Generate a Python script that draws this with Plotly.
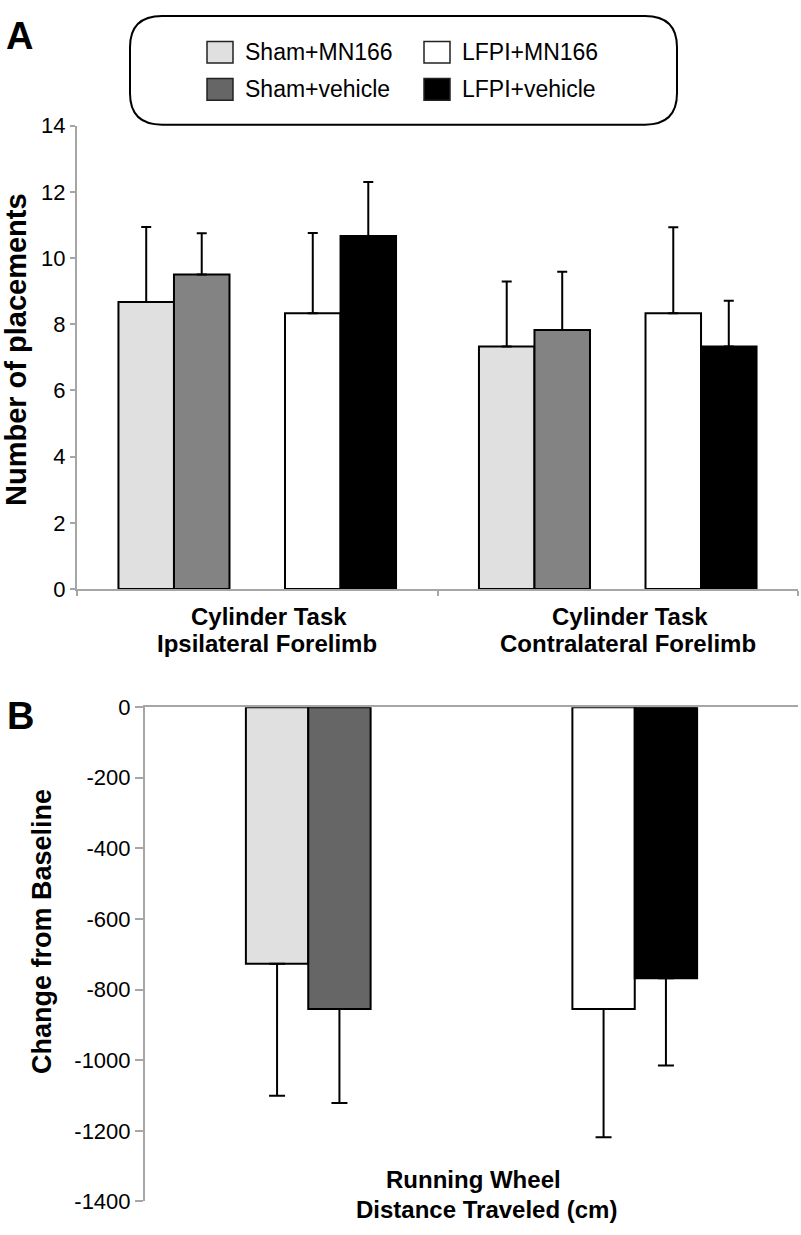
import plotly.graph_objects as go

W, H = 801, 1235
FONT = "Liberation Sans, Arial, sans-serif"

# ---------------- data ----------------
series = ["Sham+MN166", "Sham+vehicle", "LFPI+MN166", "LFPI+vehicle"]

# Panel A: cylinder task
a_categories = ["Cylinder Task<br>Ipsilateral Forelimb", "Cylinder Task<br>Contralateral Forelimb"]
a_sham_mn166 = [8.67, 7.33]
a_sham_vehicle = [9.5, 7.83]
a_lfpi_mn166 = [8.33, 8.33]
a_lfpi_vehicle = [10.67, 7.33]
a_err_sham_mn166 = [2.27, 1.96]
a_err_sham_vehicle = [1.25, 1.76]
a_err_lfpi_mn166 = [2.43, 2.6]
a_err_lfpi_vehicle = [1.63, 1.38]
a_ticks = [0, 2, 4, 6, 8, 10, 12, 14]

# Panel B: running wheel
b_groups = ["Sham", "LFPI"]
b_values = [-727, -855, -855, -768]   # order of `series`
b_errors = [374, 266, 363, 247]
b_ticks = [0, -200, -400, -600, -800, -1000, -1200, -1400]
b_ticktext = ["0", "-200", "-400", "-600", "-800", "-1000", "-1200", "-1400"]

# ---------------- styles ----------------
a_colors = ["#e0e0e0", "#838383", "#ffffff", "#000000"]
b_colors = ["#e0e0e0", "#666666", "#ffffff", "#000000"]
legend_colors = ["#e0e0e0", "#666666", "#ffffff", "#000000"]
AXIS_GRAY = "#a6a6a6"


def px_x(p):
    return p / W


def px_y(p):
    return 1 - p / H


fig = go.Figure()

# Panel A bars: 5 slots per category, middle slot empty
wA = 0.154
a_offsets = [-2 * wA, -1 * wA, 1 * wA, 2 * wA]
a_vals = [a_sham_mn166, a_sham_vehicle, a_lfpi_mn166, a_lfpi_vehicle]
a_errs = [a_err_sham_mn166, a_err_sham_vehicle, a_err_lfpi_mn166, a_err_lfpi_vehicle]
for i, name in enumerate(series):
    fig.add_trace(go.Bar(
        x=[k + a_offsets[i] for k in range(len(a_categories))],
        y=a_vals[i], width=wA, name=name, showlegend=False,
        marker=dict(color=a_colors[i], line=dict(color="black", width=2)),
        error_y=dict(type="data", symmetric=False, array=a_errs[i],
                     arrayminus=[0] * len(a_errs[i]), color="black",
                     thickness=2, width=5),
        xaxis="x", yaxis="y",
    ))

# Panel B bars: two bars per group
wB = 0.191
b_group_idx = [0, 0, 1, 1]
b_offsets = [-wB / 2, wB / 2, -wB / 2, wB / 2]
for i, name in enumerate(series):
    fig.add_trace(go.Bar(
        x=[b_group_idx[i] + b_offsets[i]], y=[b_values[i]], width=wB,
        name=name, showlegend=False,
        marker=dict(color=b_colors[i], line=dict(color="black", width=2)),
        error_y=dict(type="data", symmetric=False, array=[0],
                     arrayminus=[b_errors[i]], color="black",
                     thickness=2, width=8),
        xaxis="x2", yaxis="y2",
    ))

fig.update_layout(
    width=W, height=H, margin=dict(l=0, r=0, t=0, b=0),
    paper_bgcolor="white", plot_bgcolor="white",
    barmode="overlay", showlegend=False,
    font=dict(family=FONT, size=23, color="black"),
    xaxis=dict(domain=[px_x(77), px_x(798)], range=[-0.5, 1.5],
               showgrid=False, zeroline=False, showline=True,
               linecolor=AXIS_GRAY, linewidth=2,
               tickvals=[-0.5, 0.5, 1.5], ticktext=["", "", ""],
               ticks="outside", ticklen=5, tickcolor=AXIS_GRAY, tickwidth=2,
               anchor="y"),
    yaxis=dict(domain=[px_y(589), px_y(116)], range=[0, 14],
               tickvals=a_ticks, showgrid=False, zeroline=False,
               showline=True, linecolor=AXIS_GRAY, linewidth=2,
               ticks="outside", ticklen=5, tickcolor=AXIS_GRAY, tickwidth=2,
               tickfont=dict(size=22), anchor="x"),
    xaxis2=dict(domain=[px_x(145), px_x(798)], range=[-0.5, 1.5],
                side="top", showgrid=False, zeroline=False, showline=True,
                linecolor=AXIS_GRAY, linewidth=2, showticklabels=False,
                ticks="", anchor="y2"),
    yaxis2=dict(domain=[px_y(1214), px_y(709.5)], range=[-1400, 0],
                tickvals=b_ticks, ticktext=b_ticktext, showgrid=False,
                zeroline=False, showline=True, linecolor=AXIS_GRAY,
                linewidth=2, ticks="outside", ticklen=8, tickcolor=AXIS_GRAY,
                tickwidth=2, tickfont=dict(size=22), anchor="x2"),
)

ann = []


def text_at(x, y, text, size, xref="paper", xshift=0, xanchor="center", angle=0):
    ann.append(dict(x=x, xref=xref, y=px_y(y), yref="paper", text=text,
                    showarrow=False, xshift=xshift, xanchor=xanchor,
                    yanchor="middle", textangle=angle,
                    font=dict(size=size)))


# category labels panel A
for k, lab in enumerate(a_categories):
    top, bottom = lab.split("<br>")
    text_at(k, 617, "<b>%s</b>" % top, 24, xref="x", xshift=12)
    text_at(k, 645, "<b>%s</b>" % bottom, 24, xref="x", xshift=10)
# panel B label
text_at(px_x(473), 1192, "<b>Running Wheel</b>", 24)
text_at(px_x(486), 1222, "<b>Distance Traveled (cm)</b>", 24)
# axis titles
text_at(px_x(16), 345, "<b>Number of placements</b>", 29, angle=-90)
text_at(px_x(42), 939, "<b>Change from Baseline</b>", 27, angle=-90)
# panel letters
text_at(px_x(19), 24, "<b>A</b>", 38)
text_at(px_x(20), 719, "<b>B</b>", 38)

# legend (manual)
leg_pos = [(207, 30), (207, 68), (424, 30), (424, 68)]
shapes = []
for i, name in enumerate(series):
    sx, sy = leg_pos[i]
    shapes.append(dict(type="rect", xref="paper", yref="paper",
                       x0=px_x(sx), x1=px_x(sx + 26), y0=px_y(sy + 22), y1=px_y(sy),
                       fillcolor=legend_colors[i], line=dict(color="#222222", width=1.5)))
    text_at(px_x(sx + 36), sy + 11, name, 23, xanchor="left")

# rounded legend box
x0, x1, y0, y1, r = 130, 677, 4, 115, 32
path = (f"M {px_x(x0 + r)},{px_y(y0)} L {px_x(x1 - r)},{px_y(y0)} "
        f"Q {px_x(x1)},{px_y(y0)} {px_x(x1)},{px_y(y0 + r)} "
        f"L {px_x(x1)},{px_y(y1 - r)} Q {px_x(x1)},{px_y(y1)} {px_x(x1 - r)},{px_y(y1)} "
        f"L {px_x(x0 + r)},{px_y(y1)} Q {px_x(x0)},{px_y(y1)} {px_x(x0)},{px_y(y1 - r)} "
        f"L {px_x(x0)},{px_y(y0 + r)} Q {px_x(x0)},{px_y(y0)} {px_x(x0 + r)},{px_y(y0)} Z")
shapes.append(dict(type="path", xref="paper", yref="paper", path=path,
                   line=dict(color="black", width=2), fillcolor="rgba(0,0,0,0)"))

fig.update_layout(annotations=ann, shapes=shapes)
fig.write_html("out.html",
               config={"displayModeBar": False},
               post_script="document.body.style.margin='0';document.body.style.padding='0';")
